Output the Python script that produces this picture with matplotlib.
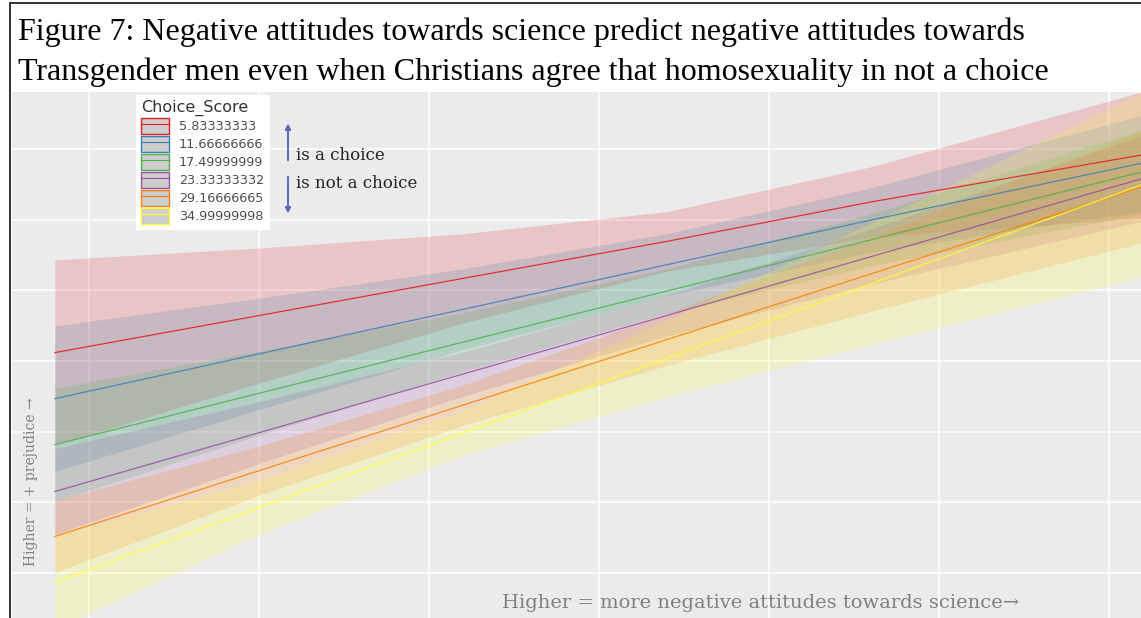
import matplotlib.pyplot as plt
from matplotlib.patches import Patch, Rectangle
from matplotlib.lines import Line2D

# Choice_Score levels and Set1 colours
choice_scores = ['5.83333333', '11.66666666', '17.49999999',
                 '23.33333332', '29.16666665', '34.99999998']
colors = ['#E41A1C', '#377EB8', '#4DAF4A', '#984EA3', '#FF7F00', '#FFFF33']

# attitudes towards science (x) and predicted prejudice with CI
science = [0.9, 1.5, 2.1, 2.7, 3.3, 4.1]

fit_06 = [2.560, 2.822, 3.085, 3.347, 3.626, 3.960]
lo_06 = [1.904, 2.344, 2.769, 3.136, 3.377, 3.513]
hi_06 = [3.216, 3.300, 3.401, 3.558, 3.875, 4.407]

fit_12 = [2.234, 2.551, 2.866, 3.182, 3.498, 3.902]
lo_12 = [1.719, 2.157, 2.579, 2.963, 3.270, 3.562]
hi_12 = [2.749, 2.945, 3.153, 3.401, 3.726, 4.242]

fit_17 = [1.909, 2.272, 2.634, 2.996, 3.358, 3.841]
lo_17 = [1.507, 1.975, 2.427, 2.839, 3.174, 3.542]
hi_17 = [2.311, 2.569, 2.841, 3.153, 3.542, 4.140]

fit_23 = [1.577, 1.993, 2.408, 2.823, 3.239, 3.793]
lo_23 = [1.273, 1.774, 2.251, 2.678, 3.044, 3.491]
hi_23 = [1.881, 2.212, 2.565, 2.968, 3.434, 4.095]

fit_29 = [1.259, 1.724, 2.188, 2.652, 3.117, 3.736]
lo_29 = [1.005, 1.550, 2.046, 2.469, 2.852, 3.340]
hi_29 = [1.513, 1.898, 2.330, 2.835, 3.382, 4.132]

fit_35 = [0.934, 1.463, 1.991, 2.519, 3.047, 3.751]
lo_35 = [0.603, 1.271, 1.832, 2.246, 2.617, 3.098]
hi_35 = [1.265, 1.655, 2.150, 2.792, 3.477, 4.404]

fits = [fit_06, fit_12, fit_17, fit_23, fit_29, fit_35]
lows = [lo_06, lo_12, lo_17, lo_23, lo_29, lo_35]
highs = [hi_06, hi_12, hi_17, hi_23, hi_29, hi_35]

W, H = 1141, 618
fig = plt.figure(figsize=(W / 100, H / 100), dpi=100)
ax = fig.add_axes([12 / W, 0, 1 - 12 / W, 1 - 92 / H])
ax.set_facecolor('#EBEBEB')

# ribbons first, then lines (like ggplot)
for lo, hi, c in zip(lows, highs, colors):
    ax.fill_between(science, lo, hi, color=c, alpha=0.18, lw=0)
for fit, c in zip(fits, colors):
    ax.plot(science, fit, color=c, lw=0.9, alpha=0.85)

ax.set_xlim(0.774, 4.094)
ax.set_ylim(0.682, 4.404)
ax.set_xticks([1, 1.5, 2, 2.5, 3, 3.5, 4])
ax.set_yticks([1, 1.5, 2, 2.5, 3, 3.5, 4])
ax.tick_params(length=0, labelbottom=False, labelleft=False)
ax.grid(color='white', lw=1.1)
ax.set_axisbelow(True)
for s in ax.spines.values():
    s.set_visible(False)

# legend
handles = [(Patch(facecolor='#CDCDCD', edgecolor=c, lw=1.0),
            Line2D([], [], color=c, lw=0.8)) for c in colors]
leg = ax.legend(handles, choice_scores, title='Choice_Score',
                loc='upper left', bbox_to_anchor=(136 / W, 1 - 95 / H),
                bbox_transform=fig.transFigure, borderaxespad=0,
                frameon=True, fancybox=False, edgecolor='white',
                facecolor='white', framealpha=1, alignment='left',
                prop={'family': 'DejaVu Sans', 'size': 9.2},
                title_fontproperties={'family': 'DejaVu Sans', 'size': 11.5},
                handlelength=2.2, handleheight=1.55, labelspacing=0.15,
                handletextpad=0.75, borderpad=0.4)
for t in leg.get_texts():
    t.set_color('#4D4D4D')
leg.get_title().set_color('#333333')


def fpos(x, y):
    return (x / W, 1 - y / H)


arrow_c = '#5B6BB5'
fig.add_artist(plt.annotate('', xy=fpos(288, 121), xytext=fpos(288, 163),
                            xycoords=fig.transFigure, textcoords=fig.transFigure,
                            arrowprops=dict(arrowstyle='-|>', color=arrow_c, lw=1.2,
                                            mutation_scale=8)))
fig.add_artist(plt.annotate('', xy=fpos(288, 216), xytext=fpos(288, 174),
                            xycoords=fig.transFigure, textcoords=fig.transFigure,
                            arrowprops=dict(arrowstyle='-|>', color=arrow_c, lw=1.2,
                                            mutation_scale=8)))
fig.text(*fpos(296, 155), 'is a choice', family='DejaVu Serif', size=12,
         va='center', ha='left', color='#222222')
fig.text(*fpos(296, 183), 'is not a choice', family='DejaVu Serif', size=12,
         va='center', ha='left', color='#222222')

# axis captions written inside the panel
fig.text(*fpos(31, 482), 'Higher = + prejudice →', rotation=90,
         family='DejaVu Serif', size=10, color='#808080', va='center', ha='center')
fig.text(*fpos(502, 603), 'Higher = more negative attitudes towards science→',
         family='DejaVu Serif', size=14, color='#808080', va='center', ha='left')

# title, two lines
fig.text(18 / W, 1 - 40 / H,
         'Figure 7: Negative attitudes towards science predict negative attitudes towards',
         family='Liberation Serif', size=23, va='baseline', ha='left')
fig.text(18 / W, 1 - 80 / H,
         'Transgender men even when Christians agree that homosexuality in not a choice',
         family='Liberation Serif', size=23, va='baseline', ha='left')

# outer frame (top and left edges visible)
fig.patches.append(Rectangle((10 / W, -0.05), 1.2, 1.05 - 3 / H, transform=fig.transFigure,
                             fill=False, ec='#222222', lw=1.3))

fig.savefig('out.png', dpi=100)
